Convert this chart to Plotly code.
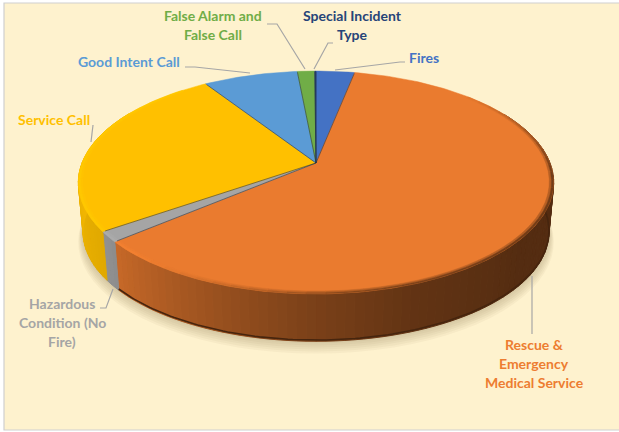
import math
import plotly.graph_objects as go

# Incident share by category, percent, clockwise from twelve o'clock
categories = ["Fires", "Rescue & Emergency Medical Service", "Hazardous Condition (No Fire)",
              "Service Call", "Good Intent Call", "False Alarm and False Call", "Special Incident Type"]
shares = [3.1, 60.7, 1.5, 25.6, 7.6, 1.4, 0.1]
slice_colors = ["#4472C4", "#EA7B2F", "#A5A5A5", "#FFC000", "#5B9BD5", "#70AD47", "#264478"]

# Pie projection: a tilted disc seen in perspective
CX, CY, A, B, K = 316, 163, 234, 108, -0.175
DEPTH, BASE_SCALE = 50, 0.98
BACKGROUND = "#FEF2CE"
FONT = "Lato"


def project(deg, r=1.0, level=0.0):
    th = math.radians(deg)
    x, y = r * math.sin(th), -r * math.cos(th)
    w = 1 + K * y
    s = 1 + (BASE_SCALE - 1) * level
    return CX + s * A * x / w, CY + DEPTH * level + s * B * y / w


def rgb(hex_color):
    return tuple(int(hex_color[i:i + 2], 16) for i in (1, 3, 5))


def shade(color, f):
    return "#%02x%02x%02x" % tuple(min(255, max(0, round(c * f))) for c in color)


def mix(a, b, t):
    return tuple(p + (q - p) * t for p, q in zip(a, b))


def wall_light(deg):
    # Brightness of the side wall, dark on the right and bright on the left
    stops = [(0, .36), (130, .36), (160, .42), (180, .52), (200, .65), (225, .82), (235, .88), (270, .95), (360, .95)]
    for (a0, v0), (a1, v1) in zip(stops, stops[1:]):
        if a0 <= deg <= a1:
            return v0 + (v1 - v0) * (deg - a0) / (a1 - a0)
    return .95


def frange(a, b, step):
    n = max(1, math.ceil((b - a) / step))
    return [a + (b - a) * i / n for i in range(n + 1)]


bounds = [0.0]
for v in shares:
    bounds.append(bounds[-1] + v * 360 / sum(shares))

fig = go.Figure()


def polygon(xs, ys, fill, line=None, width=1.0):
    fig.add_trace(go.Scatter(x=xs, y=ys, mode="lines", fill="toself", fillcolor=fill,
                             line=dict(color=line or fill, width=width), hoverinfo="skip", showlegend=False))


# Soft shadow under the disc
ring = frange(0, 360, 4)
for i in range(7):
    pts = [project(d, 1.0 + .004 * i, 1.0 + .03 * i) for d in ring]
    polygon([p[0] for p in pts], [p[1] for p in pts], "rgba(125,105,50,0.05)", line="rgba(0,0,0,0)", width=0)

# Side wall, one polygon per shade band, painted in angle order
for lo, hi, col in zip(bounds, bounds[1:], slice_colors):
    base = rgb(col)
    steps = frange(lo, hi, 2)
    for d0, d1 in zip(steps, steps[1:]):
        mid = (d0 + d1) / 2
        if mid < 60 or mid > 300:
            continue
        f = wall_light(mid)
        arc = frange(d0, d1, 1)
        top = [project(d, 1, 0) for d in arc]
        low = [project(d, 1, 1) for d in reversed(arc)]
        pts = top + low + top[:1]
        polygon([p[0] for p in pts], [p[1] for p in pts], shade(base, f))

# Thin dark edge along the foot of the wall
orange = rgb(slice_colors[1])
foot = [project(d, 1, .975) for d in frange(bounds[1] + 50, bounds[2], 1)]
fig.add_trace(go.Scatter(x=[p[0] for p in foot], y=[p[1] for p in foot], mode="lines",
                         line=dict(color=shade(orange, .3), width=1.6), hoverinfo="skip", showlegend=False))

# Top face of each slice
for lo, hi, col in zip(bounds, bounds[1:], slice_colors):
    pts = [project(d) for d in frange(lo, hi, 1)]
    polygon([CX] + [p[0] for p in pts] + [CX], [CY] + [p[1] for p in pts] + [CY], col, width=0.5)

# Bevelled rim between the face and the wall
for lo, hi, col in zip(bounds, bounds[1:], slice_colors):
    base = rgb(col)
    steps = frange(lo, hi, 4)
    for d0, d1 in zip(steps, steps[1:]):
        mid = (d0 + d1) / 2
        if mid < 45 or mid > 320:
            continue
        f = wall_light(mid)
        reach = min(1.0, (mid - 45) / 50)
        lit = min(1.0, max(0.0, (f - .5) / .3))
        edge = mix(mix(base, tuple(c * f for c in base), reach),
                   tuple(c * 1.05 for c in base), lit)
        arc = frange(d0, d1, 1)
        for r0, r1, t in [(.982, .991, .35), (.991, 1.0, .8)]:
            outer = [project(d, r1) for d in arc]
            inner = [project(d, r0) for d in reversed(arc)]
            pts = outer + inner + outer[:1]
            polygon([p[0] for p in pts], [p[1] for p in pts], shade(mix(base, edge, t), 1), width=0.4)

# Dark seams between the slices
for deg in bounds[:-1]:
    px, py = project(deg, .99)
    fig.add_trace(go.Scatter(x=[CX, px], y=[CY, py], mode="lines",
                             line=dict(color="rgba(35,45,60,0.6)", width=0.9),
                             hoverinfo="skip", showlegend=False))

# Leader lines from each label to its slice
leaders = [
    [(267, 24), (277, 24), (305, 69)],
    [(333, 43), (328, 43), (314, 69)],
    [(405, 62), (400, 62), (335, 70)],
    [(185, 67), (195, 67), (250, 73)],
    [(93, 125), (91, 142)],
    [(100, 308), (106, 308), (113, 289)],
    [(532, 276), (532, 334)],
]
for path in leaders:
    fig.add_trace(go.Scatter(x=[p[0] for p in path], y=[p[1] for p in path], mode="lines",
                             line=dict(color="#A6A6A6", width=1.2), hoverinfo="skip", showlegend=False))

# Slice labels, one annotation per text line
labels = [
    (["False Alarm and", "False Call"], 213, 15, "#70AD47"),
    (["Special Incident", "Type"], 352, 15, "#264478"),
    (["Fires"], 424, 57, "#4472C4"),
    (["Good Intent Call"], 129, 61, "#5B9BD5"),
    (["Service Call"], 54, 119, "#FFC000"),
    (["Hazardous", "Condition (No", "Fire)"], 62, 303, "#A5A5A5"),
    (["Rescue &", "Emergency", "Medical Service"], 534, 344, "#ED7D31"),
]
annotations = []
for lines, x, y, color in labels:
    for n, line in enumerate(lines):
        annotations.append(dict(x=x, y=y + 19 * n, text="<b>%s</b>" % line, showarrow=False,
                                xanchor="center", yanchor="middle",
                                font=dict(family=FONT, size=14, color=color)))

fig.update_layout(
    width=619, height=432, margin=dict(l=0, r=0, t=0, b=0),
    paper_bgcolor="white", plot_bgcolor="white", showlegend=False,
    xaxis=dict(range=[0, 619], visible=False, fixedrange=True),
    yaxis=dict(range=[432, 0], visible=False, fixedrange=True),
    annotations=annotations,
    shapes=[dict(type="rect", x0=4, y0=3, x1=625, y1=430, layer="below",
                 fillcolor=BACKGROUND, line=dict(color="#CFCFCF", width=1.2))],
)
fig.write_html("out.html")
